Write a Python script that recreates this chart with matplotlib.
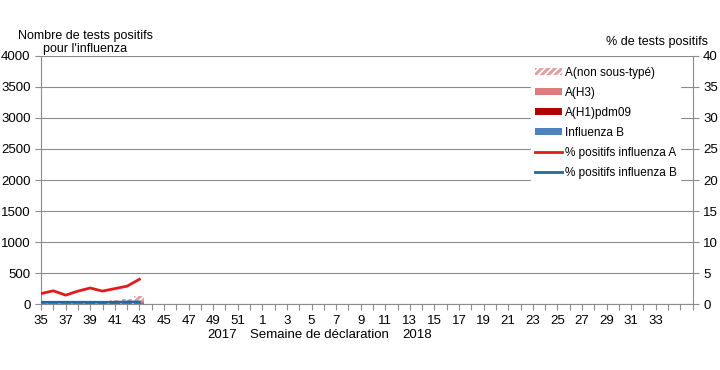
import matplotlib.pyplot as plt
from matplotlib.patches import Patch
from matplotlib.lines import Line2D

plt.rcParams['font.family'] = ['Liberation Sans', 'DejaVu Sans']

# --- données ---
weeks = list(range(35, 53)) + list(range(1, 37))
# semaines de déclaration avec données (35 à 43)
b_vals = [10, 10, 8, 10, 12, 12, 15, 15, 15]
h1_vals = [0, 0, 0, 0, 0, 0, 2, 2, 3]
h3_vals = [5, 5, 5, 5, 8, 10, 15, 20, 40]
nst_vals = [10, 10, 8, 10, 20, 22, 28, 40, 70]
pct_a = [1.7, 2.15, 1.45, 2.1, 2.6, 2.1, 2.5, 2.9, 4.0]
pct_b = [0.3, 0.3, 0.3, 0.3, 0.3, 0.3, 0.3, 0.35, 0.35]

grey = '#8c8c8c'
c_nst = '#e3a0a0'
c_h3 = '#e07b7b'
c_h1 = '#b30000'
c_b = '#4f81bd'
c_la = '#e31a1c'
c_lb = '#1f6aa5'

fig = plt.figure(figsize=(7.2, 3.7), dpi=100)
ax = fig.add_axes([0.057, 0.178, 0.905, 0.671])
ax2 = ax.twinx()

n = len(b_vals)
x = list(range(n))
bot1 = b_vals
bot2 = [a + b for a, b in zip(bot1, h1_vals)]
bot3 = [a + b for a, b in zip(bot2, h3_vals)]

# barres empilées
w = 0.8
ax.bar(x, b_vals, width=w, color=c_b, zorder=3)
ax.bar(x, h1_vals, bottom=bot1, width=w, color=c_h1, zorder=3)
ax.bar(x, h3_vals, bottom=bot2, width=w, color=c_h3, zorder=3)
plt.rcParams['hatch.linewidth'] = 1.2
ax.bar(x, nst_vals, bottom=bot3, width=w, facecolor=c_nst, edgecolor='white',
       hatch='/////', linewidth=0, zorder=3)

# pourcentages (axe droit)
ax2.plot(x, pct_a, color=c_la, lw=2, zorder=4)
ax2.plot(x, pct_b, color=c_lb, lw=2, zorder=4)

ax.set_xlim(0, 53)
ax.set_ylim(0, 4000)
ax.set_yticks(range(0, 4001, 500))
ax2.set_ylim(0, 40)
ax2.set_yticks(range(0, 41, 5))
ax.grid(axis='y', color=grey, lw=0.8, zorder=0)
ax.set_axisbelow(True)

ax.set_xticks(range(0, 54))
ax.set_xticklabels([str(weeks[i]) if (i % 2 == 0 and i <= 50) else '' for i in range(54)])

for a in (ax, ax2):
    a.spines['top'].set_visible(False)
    for s in ('left', 'right', 'bottom'):
        a.spines[s].set_color(grey)
    a.tick_params(colors=grey, labelcolor='black', labelsize=9.5, length=4, width=0.8)
ax.spines['right'].set_visible(False)
ax2.spines['left'].set_visible(False)
ax2.spines['bottom'].set_visible(False)

fig.text(0.119, 0.903, "Nombre de tests positifs", fontsize=9, ha='center', va='center')
fig.text(0.118, 0.868, "pour l'influenza", fontsize=9, ha='center', va='center')
fig.text(0.913, 0.886, "% de tests positifs", fontsize=9, ha='center', va='center')
fig.text(0.308, 0.095, "2017", fontsize=9.5, ha='center', va='center')
fig.text(0.443, 0.095, "Semaine de déclaration", fontsize=9.5, ha='center', va='center')
fig.text(0.579, 0.095, "2018", fontsize=9.5, ha='center', va='center')

handles = [
    Patch(facecolor=c_nst, edgecolor='white', hatch='/////', linewidth=0, label='A(non sous-typé)'),
    Patch(facecolor=c_h3, label='A(H3)'),
    Patch(facecolor=c_h1, label='A(H1)pdm09'),
    Patch(facecolor=c_b, label='Influenza B'),
    Line2D([0], [0], color=c_la, lw=2, label='% positifs influenza A'),
    Line2D([0], [0], color=c_lb, lw=2, label='% positifs influenza B'),
]
leg = ax2.legend(handles=handles, loc='upper right', bbox_to_anchor=(0.99, 0.995),
                 frameon=True, fontsize=8.5, handlelength=2.3, handleheight=0.6,
                 handletextpad=0.25, labelspacing=0.68, borderpad=0.3)
leg.get_frame().set_edgecolor('white')
leg.get_frame().set_facecolor('white')
leg.get_frame().set_alpha(1)

fig.savefig('out.png', dpi=100)
